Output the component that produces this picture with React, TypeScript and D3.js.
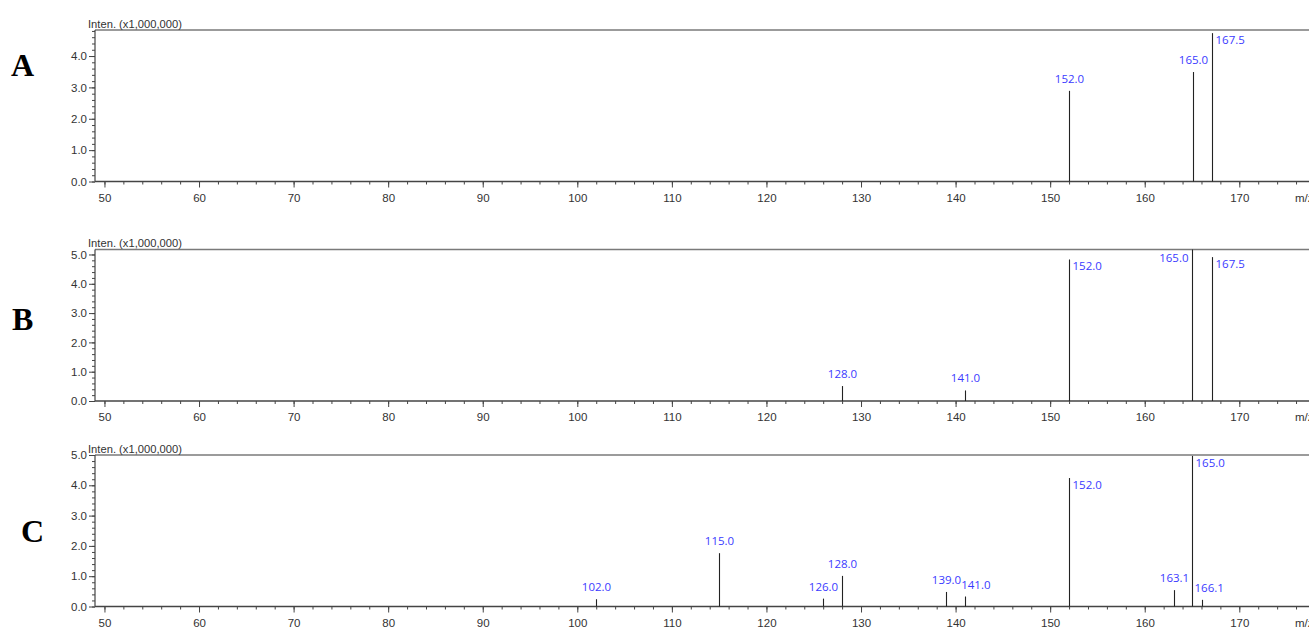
import React, { useEffect, useRef } from 'react';
import * as d3 from 'd3';

// panel names and y-axis maxima (x1,000,000)
const panelNames = ['A', 'B', 'C'];
const yMaxes = [4.83, 5.17, 5.0];

// spectrum A
const mzA = [152.0, 165.1, 167.1];
const intA = [2.89, 3.49, 4.73];
const labelsA = ['152.0', '165.0', '167.5'];

// spectrum B
const mzB = [128.0, 141.0, 152.0, 165.0, 167.1];
const intB = [0.51, 0.36, 4.83, 5.3, 4.91];
const labelsB = ['128.0', '141.0', '152.0', '165.0', '167.5'];

// spectrum C
const mzC = [102.0, 115.0, 126.0, 128.0, 139.0, 141.0, 152.0, 163.1, 165.0, 166.1];
const intC = [0.24, 1.76, 0.26, 1.01, 0.48, 0.33, 4.24, 0.54, 4.97, 0.22];
const labelsC = ['102.0', '115.0', '126.0', '128.0', '139.0', '141.0', '152.0', '163.1', '165.0', '166.1'];

const xMajorTicks = [50, 60, 70, 80, 90, 100, 110, 120, 130, 140, 150, 160, 170, 180];
const yTickLabels = ['0.0', '1.0', '2.0', '3.0', '4.0', '5.0'];
const yTitle = 'Inten. (x1,000,000)';
const xTitle = 'm/z';

const spectra = [
  { mz: mzA, inten: intA, labels: labelsA },
  { mz: mzB, inten: intB, labels: labelsB },
  { mz: mzC, inten: intC, labels: labelsC },
];

const W = 1309;
const H = 628;
const plotLeft = 95;
const panelTops = [30, 249.5, 455];
const panelH = 151.5;
const letterPos = [[11, 65], [12, 319], [21, 531]];

const Spectra = () => {
  const ref = useRef<SVGSVGElement>(null);

  useEffect(() => {
    const svg = d3.select(ref.current);
    svg.selectAll('*').remove();

    const x = d3.scaleLinear()
      .domain([49, 180])
      .range([plotLeft, plotLeft + 131 * 9.457]);

    spectra.forEach((s, p) => {
      const top = panelTops[p];
      const base = top + panelH;
      const yMax = yMaxes[p];
      const y = d3.scaleLinear().domain([0, yMax]).range([base, top]);

      const g = svg.append('g');

      // panel letter
      g.append('text')
        .attr('x', letterPos[p][0])
        .attr('y', letterPos[p][1])
        .attr('dy', '0.35em')
        .attr('font-family', '"Liberation Serif", "DejaVu Serif", serif')
        .attr('font-weight', 'bold')
        .attr('font-size', 32)
        .text(panelNames[p]);

      // top frame
      g.append('line')
        .attr('x1', plotLeft).attr('x2', W)
        .attr('y1', top).attr('y2', top)
        .attr('stroke', '#7a7a7a')
        .attr('stroke-width', 1.5);

      // y axis
      const yMinor = d3.range(0, yMax + 0.001, 0.2);
      g.append('g')
        .attr('transform', `translate(${plotLeft},0)`)
        .call(d3.axisLeft(y).tickValues(yMinor).tickSize(3).tickFormat(() => ''))
        .call(a => a.select('.domain').remove())
        .call(a => a.selectAll('line').attr('stroke', '#444'));

      const yMajor = yTickLabels.map(Number).filter(v => v <= yMax);
      g.append('g')
        .attr('transform', `translate(${plotLeft},0)`)
        .call(d3.axisLeft(y).tickValues(yMajor).tickSize(6).tickPadding(2).tickFormat(d3.format('.1f')))
        .call(a => a.select('.domain').remove())
        .call(a => a.selectAll('line').attr('stroke', '#444'))
        .call(a => a.selectAll('text')
          .attr('font-family', '"Liberation Sans", Arial, sans-serif')
          .attr('font-size', 11.5)
          .attr('fill', '#333'));

      g.append('line')
        .attr('x1', plotLeft).attr('x2', plotLeft)
        .attr('y1', top).attr('y2', base)
        .attr('stroke', '#444')
        .attr('stroke-width', 1.2);

      // x axis
      g.append('g')
        .attr('transform', `translate(0,${base})`)
        .call(d3.axisBottom(x).tickValues(d3.range(50, 181, 2)).tickSize(3).tickFormat(() => ''))
        .call(a => a.select('.domain').remove())
        .call(a => a.selectAll('line').attr('stroke', '#444'));

      g.append('g')
        .attr('transform', `translate(0,${base})`)
        .call(d3.axisBottom(x).tickValues(xMajorTicks).tickSize(6).tickPadding(6).tickFormat(d3.format('d')))
        .call(a => a.select('.domain').remove())
        .call(a => a.selectAll('line').attr('stroke', '#444'))
        .call(a => a.selectAll('text')
          .attr('font-family', '"Liberation Sans", Arial, sans-serif')
          .attr('font-size', 11.5)
          .attr('fill', '#333'));

      g.append('line')
        .attr('x1', plotLeft).attr('x2', W)
        .attr('y1', base).attr('y2', base)
        .attr('stroke', '#444')
        .attr('stroke-width', 1.5);

      // titles
      g.append('text')
        .attr('x', plotLeft - 7)
        .attr('y', top - 6)
        .attr('dy', '0.35em')
        .attr('font-family', '"Liberation Sans", Arial, sans-serif')
        .attr('font-size', 11.2)
        .attr('fill', '#333')
        .text(yTitle);

      g.append('text')
        .attr('x', 1295)
        .attr('y', base + 16)
        .attr('dy', '0.35em')
        .attr('font-family', '"Liberation Sans", Arial, sans-serif')
        .attr('font-size', 11.5)
        .attr('fill', '#333')
        .text(xTitle);

      // peaks
      const peaks = s.mz.map((m, i) => ({
        mz: m,
        inten: s.inten[i],
        label: s.labels[i],
        px: Math.round(x(m)) + 0.5,
        top: Math.max(y(s.inten[i]), top),
      }));

      g.selectAll('.peak')
        .data(peaks)
        .enter()
        .append('line')
        .attr('class', 'peak')
        .attr('x1', d => d.px).attr('x2', d => d.px)
        .attr('y1', base).attr('y2', d => d.top)
        .attr('stroke', '#222')
        .attr('stroke-width', 1.1);

      // peak labels
      const boxes: { x0: number; x1: number; y0: number; y1: number }[] = [];
      peaks.forEach((d, i) => {
        const t = g.append('text')
          .attr('font-family', '"Open Sans", "DejaVu Sans", sans-serif')
          .attr('font-size', 11.5)
          .attr('fill', '#3a3aff')
          .attr('dy', '0.35em')
          .text(d.label);
        const w = (t.node() as SVGTextElement).getComputedTextLength();
        const tall = d.inten / yMax >= 0.8;
        let x0: number;
        let cy: number;
        if (tall) {
          const next = peaks[i + 1];
          const leftSide = next && next.px - d.px < 30 && next.inten / yMax >= 0.8;
          x0 = leftSide ? d.px - 4 - w : d.px + 3;
          cy = Math.max(d.top, top + 1) + 7;
        } else {
          x0 = d.px - w / 2;
          cy = d.top - 12;
          const y0 = cy - 6;
          const y1 = cy + 6;
          boxes.forEach(b => {
            if (b.y1 > y0 && b.y0 < y1 && b.x1 > x0 && b.x0 < x0 + w) x0 = b.x1;
          });
          peaks.forEach(o => {
            if (o === d) return;
            if (o.top < y1 && o.px > x0 && o.px < x0 + w && o.px < d.px) x0 = o.px + 2;
          });
        }
        boxes.push({ x0, x1: x0 + w, y0: cy - 6, y1: cy + 6 });
        t.attr('x', x0).attr('y', cy);
      });
    });
  }, []);

  return (
    <svg ref={ref} width={W} height={H} style={{ display: 'block', background: '#fff' }} />
  );
};

export default function App() {
  return (
    <div style={{ position: 'absolute', left: 0, top: 0, width: W, height: H, overflow: 'hidden', background: '#fff' }}>
      <Spectra />
    </div>
  );
}
